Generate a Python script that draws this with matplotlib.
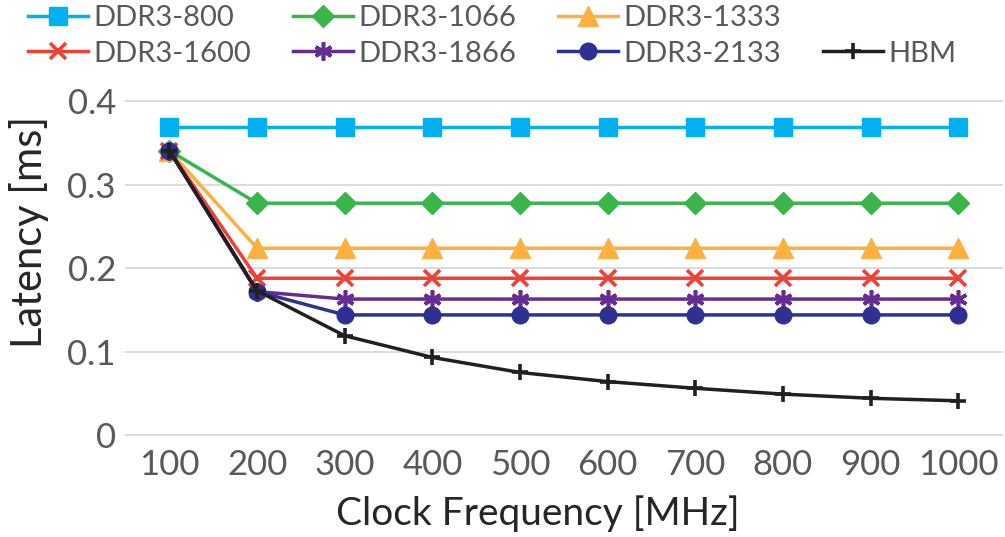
import matplotlib
matplotlib.use("Agg")
import matplotlib.pyplot as plt
from matplotlib.lines import Line2D

freqs = ["100", "200", "300", "400", "500", "600", "700", "800", "900", "1000"]

ddr3_800 = [0.370, 0.370, 0.370, 0.370, 0.370, 0.370, 0.370, 0.370, 0.370, 0.370]
ddr3_1066 = [0.341, 0.278, 0.278, 0.278, 0.278, 0.278, 0.278, 0.278, 0.278, 0.278]
ddr3_1333 = [0.341, 0.224, 0.224, 0.224, 0.224, 0.224, 0.224, 0.224, 0.224, 0.224]
ddr3_1600 = [0.341, 0.188, 0.188, 0.188, 0.188, 0.188, 0.188, 0.188, 0.188, 0.188]
ddr3_1866 = [0.341, 0.172, 0.163, 0.163, 0.163, 0.163, 0.163, 0.163, 0.163, 0.163]
ddr3_2133 = [0.341, 0.172, 0.144, 0.144, 0.144, 0.144, 0.144, 0.144, 0.144, 0.144]
hbm = [0.341, 0.173, 0.119, 0.093, 0.075, 0.064, 0.056, 0.049, 0.044, 0.041]

series = [
    ("DDR3-800", ddr3_800, "#00B0F0", "s", 13),
    ("DDR3-1066", ddr3_1066, "#39B54A", "D", 11),
    ("DDR3-1333", ddr3_1333, "#FBB040", "^", 15),
    ("DDR3-1600", ddr3_1600, "#EF4136", "x", 12),
    ("DDR3-1866", ddr3_1866, "#662D91", (6, 2, 0), 13),
    ("DDR3-2133", ddr3_2133, "#2E3192", "o", 12),
    ("HBM", hbm, "#231F20", "+", 11),
]

plt.rcParams['font.family'] = ['Lato', 'DejaVu Sans']

fig = plt.figure(figsize=(10.05, 5.37), dpi=100)
ax = fig.add_axes([0.125, 0.19, 0.872, 0.621])

x = list(range(len(freqs)))
handles = {}
for name, vals, color, marker, ms in series:
    mew = 2.6 if marker in ("x", "+", (6, 2, 0)) else 1
    h, = ax.plot(x, vals, color=color, lw=2.5, marker=marker, markersize=ms,
                 markeredgewidth=mew, markeredgecolor=color, label=name, zorder=3)
    handles[name] = h

ax.set_xlim(-0.5, len(freqs) - 0.5)
ax.set_ylim(0, 0.4)
ax.set_yticks([0, 0.1, 0.2, 0.3, 0.4])
ax.set_yticklabels(["0", "0.1", "0.2", "0.3", "0.4"])
ax.set_xticks(x)
ax.set_xticklabels(freqs)
ax.grid(axis="y", color="#D9D9D9", lw=1.3)
ax.set_axisbelow(True)
for s in ax.spines.values():
    s.set_visible(False)
ax.tick_params(axis="both", length=0, labelsize=25, colors="#595959")
ax.tick_params(axis="y", pad=7)
ax.tick_params(axis="x", pad=10)
for gl in ax.get_ygridlines():
    gl.set_clip_on(False)

ax.set_ylabel("Latency [ms]", fontsize=30, color="#262626")
ax.yaxis.set_label_coords(-0.088, 0.61)
ax.set_xlabel("Clock Frequency [MHz]", fontsize=28, color="#262626")
ax.xaxis.set_label_coords(0.47, -0.18)

blank = Line2D([], [], color="none")
order = ["DDR3-800", "DDR3-1600", "DDR3-1066", "DDR3-1866", "DDR3-1333", "DDR3-2133", None, "HBM"]
hs = [handles[n] if n else blank for n in order]
ls = [n if n else "" for n in order]
leg = fig.legend(hs, ls, loc="upper left", bbox_to_anchor=(28 / 1005, 0.99), ncol=4, frameon=False,
                 fontsize=21, handlelength=2.05, handletextpad=0.18, columnspacing=1.45,
                 labelspacing=0.32, borderaxespad=0.0, borderpad=0.0)
for t in leg.get_texts():
    t.set_color("#595959")

fig.savefig("out.png", dpi=100)
